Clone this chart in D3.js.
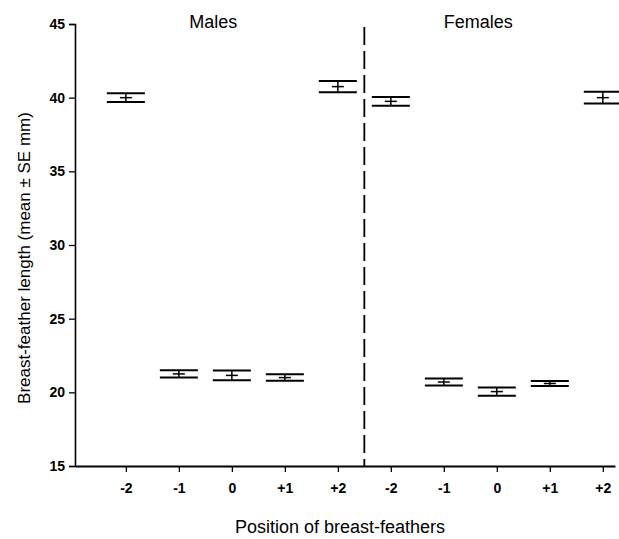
<!DOCTYPE html>
<meta charset="utf-8">
<style>
  body { margin: 0; background: #fff; }
  text { font-family: "Liberation Sans", Arial, sans-serif; fill: #000; }
</style>
<body>
<script src="https://cdn.jsdelivr.net/npm/d3@7"></script>
<script>

// positions along the x axis, males first then females
var positions = ["-2", "-1", "0", "+1", "+2"];
var groups = ["Males", "Females"];
var maleMeans = [40.0, 21.25, 21.15, 21.0, 40.75];
var maleSE = [0.3, 0.25, 0.33, 0.22, 0.38];
var femaleMeans = [39.75, 20.7, 20.05, 20.6, 40.0];
var femaleSE = [0.3, 0.24, 0.28, 0.17, 0.4];
var yTicks = [15, 20, 25, 30, 35, 40, 45];

var data = [];
positions.forEach(function(p, i) {
  data.push({slot: i, mean: maleMeans[i], se: maleSE[i]});
});
positions.forEach(function(p, i) {
  data.push({slot: i + 5, mean: femaleMeans[i], se: femaleSE[i]});
});

var svg = d3.select("body").append("svg")
    .attr("width", 619)
    .attr("height", 539);

var x = d3.scaleLinear().domain([-0.96, 9.23]).range([75, 615]);
var y = d3.scaleLinear().domain([15, 45]).range([466, 24]);

// axes
var yAxis = d3.axisLeft(y).tickValues(yTicks).tickSize(6).tickPadding(4);
var gy = svg.append("g").attr("transform", "translate(75,0)").call(yAxis);
gy.select(".domain").attr("stroke-width", 1.6);
gy.selectAll(".tick line").attr("stroke-width", 1.3);
gy.selectAll(".tick text").style("font-size", "14px").style("font-weight", "bold");

var xAxis = d3.axisBottom(x)
    .tickValues(d3.range(10))
    .tickFormat(function(d) { return positions[d % 5]; })
    .tickSize(6).tickSizeOuter(0).tickPadding(11);
var gx = svg.append("g").attr("transform", "translate(0,466)").call(xAxis);
gx.select(".domain").attr("stroke-width", 1.8);
gx.selectAll(".tick line").attr("stroke-width", 1.3);
gx.selectAll(".tick text").style("font-size", "14px").style("font-weight", "bold");

// dashed divider between the sexes
svg.append("line")
    .attr("x1", x(4.5)).attr("x2", x(4.5))
    .attr("y1", 27).attr("y2", 466)
    .attr("stroke", "#000")
    .attr("stroke-width", 1.8)
    .attr("stroke-dasharray", "18,6");

// group titles
svg.selectAll("text.group")
    .data(groups)
  .enter().append("text")
    .attr("class", "group")
    .attr("x", function(d, i) { return x(i * 5 + 1.65); })
    .attr("y", 28)
    .attr("text-anchor", "middle")
    .style("font-size", "18px")
    .text(function(d) { return d; });

// error bars
var half = 19;
var bar = svg.selectAll("g.bar")
    .data(data)
  .enter().append("g")
    .attr("class", "bar");

bar.append("line")
    .attr("x1", function(d) { return x(d.slot) - half; })
    .attr("x2", function(d) { return x(d.slot) + half; })
    .attr("y1", function(d) { return y(d.mean + d.se); })
    .attr("y2", function(d) { return y(d.mean + d.se); })
    .attr("stroke", "#000").attr("stroke-width", 2);

bar.append("line")
    .attr("x1", function(d) { return x(d.slot) - half; })
    .attr("x2", function(d) { return x(d.slot) + half; })
    .attr("y1", function(d) { return y(d.mean - d.se); })
    .attr("y2", function(d) { return y(d.mean - d.se); })
    .attr("stroke", "#000").attr("stroke-width", 2);

bar.append("line")
    .attr("x1", function(d) { return x(d.slot); })
    .attr("x2", function(d) { return x(d.slot); })
    .attr("y1", function(d) { return y(d.mean + d.se); })
    .attr("y2", function(d) { return y(d.mean - d.se); })
    .attr("stroke", "#000").attr("stroke-width", 1.5);

bar.append("line")
    .attr("x1", function(d) { return x(d.slot) - 6; })
    .attr("x2", function(d) { return x(d.slot) + 6; })
    .attr("y1", function(d) { return y(d.mean); })
    .attr("y2", function(d) { return y(d.mean); })
    .attr("stroke", "#000").attr("stroke-width", 1.5);

// axis titles
svg.append("text")
    .attr("transform", "translate(30,258) rotate(-90)")
    .attr("text-anchor", "middle")
    .style("font-size", "17px")
    .text("Breast-feather length (mean \u00b1 SE mm)");

svg.append("text")
    .attr("x", 340)
    .attr("y", 533)
    .attr("text-anchor", "middle")
    .style("font-size", "18px")
    .text("Position of breast-feathers");

</script>
